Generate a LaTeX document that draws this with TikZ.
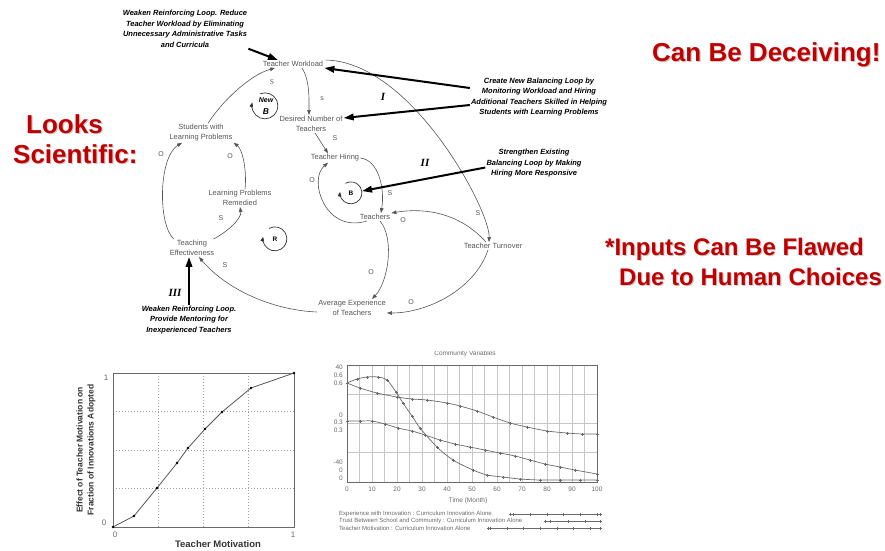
\documentclass[tikz,border=0pt]{standalone}
\usepackage{fontspec}
\setmainfont{Liberation Sans}
\newfontfamily\romanfont{Liberation Serif}
\usepackage{xcolor,tikz}
\usetikzlibrary{arrows.meta}
\definecolor{slidered}{RGB}{192,0,0}
\definecolor{cldgray}{RGB}{85,85,85}
\definecolor{plotgray}{RGB}{105,105,105}

\begin{document}
\begin{tikzpicture}[x=1pt,y=-1pt,
  every node/.style={inner sep=1pt},
  headline/.style={font=\fontsize{26}{30}\selectfont\bfseries,text=slidered,anchor=base west},
  headshade/.style={headline,text=black!20},
  var/.style={font=\fontsize{7.5}{10}\selectfont,text=cldgray,align=center},
  pol/.style={font=\fontsize{7}{8}\selectfont,text=cldgray,inner sep=0pt},
  cld/.style={draw=cldgray,line width=.6pt,-{Triangle[length=5pt,width=3.6pt]}},
  looparc/.style={draw=black!80,line width=.7pt,-{Triangle[length=4.5pt,width=3.6pt]}},
  loopmark/.style={circle,minimum size=24pt,inner sep=0pt,font=\fontsize{6.5}{7}\selectfont\bfseries},
  note/.style={font=\fontsize{7.5}{10.5}\selectfont\bfseries\itshape,align=center},
  lever/.style={line width=2pt,-{Triangle[length=10pt,width=6.5pt]}},
  roman/.style={font=\fontsize{11}{12}\selectfont\romanfont\bfseries\itshape},
  griddot/.style={gray!75,dash pattern=on 1.2pt off 1.8pt,line width=.6pt},
  gridline/.style={gray!45,line width=.6pt},
  frame/.style={draw=plotgray,line width=.7pt},
  tick/.style={font=\fontsize{6.5}{7}\selectfont,text=plotgray},
  axislab/.style={font=\fontsize{9.5}{11}\selectfont\bfseries,text=black!80,align=center},
  simline/.style={plotgray,line width=.7pt,mark=+,mark size=1.5pt,mark options={solid,line width=.5pt}},
  legend/.style={font=\fontsize{6}{6.5}\selectfont,text=plotgray,anchor=west,inner sep=0pt}]
\useasboundingbox (0,0) rectangle (885,550);

\node[headshade] (deceiveshade) at (652.2,62.2) {Can Be Deceiving!};
\node[headline] (deceive) at (651,61) {Can Be Deceiving!};
\node[headshade] (looksshade) at (26.2,134.2) {Looks};
\node[headline] (looks) at (25,133) {Looks};
\node[headshade] (scishade) at (13.2,164.2) {Scientific:};
\node[headline] (sci) at (12,163) {Scientific:};
\node[headshade,font=\fontsize{24}{28}\selectfont\bfseries] (flawshade) at (605.2,256.2) {*Inputs Can Be Flawed};
\node[headline,font=\fontsize{24}{28}\selectfont\bfseries] (flaw) at (604,255) {*Inputs Can Be Flawed};
\node[headshade,font=\fontsize{24}{28}\selectfont\bfseries] (choiceshade) at (619.2,286.2) {Due to Human Choices};
\node[headline,font=\fontsize{24}{28}\selectfont\bfseries] (choice) at (618,285) {Due to Human Choices};

\node[var] (tw) at (293,64) {Teacher Workload};
\node[var] (dn) at (311,124) {Desired Number of\\Teachers};
\node[var] (th) at (335,158) {Teacher Hiring};
\node[var] (te) at (375,217) {Teachers};
\node[var] (tt) at (493,246) {Teacher Turnover};
\node[var] (ae) at (352,308) {Average Experience\\of Teachers};
\node[var] (ef) at (192,248) {Teaching\\Effectiveness};
\node[var] (lr) at (240,198) {Learning Problems\\Remedied};
\node[var] (sl) at (201,133) {Students with\\Learning Problems};

\draw[cld] ([xshift=9pt]tw.south) .. controls +(8,12) and +(0,-14) .. ([xshift=-2pt]dn.north);
\draw[cld] ([xshift=4pt]dn.south) -- ([xshift=-7pt]th.north);
\draw[cld] (th.east) .. controls +(18,2) and +(4,-25) .. ([xshift=6pt]te.north);
\draw[cld] ([xshift=-8pt]te.south) .. controls +(-42,13) and +(-20,17) .. ([xshift=-7pt]th.south);
\draw[cld] ([xshift=1pt]tw.north east) .. controls (411,61) and (490,210) .. ([xshift=-4pt]tt.north);
\draw[cld] ([xshift=-7pt]tt.north) .. controls +(-25,-28) and +(35,-6) .. (te.north east);
\draw[cld] ([xshift=-5pt]tt.south) .. controls +(-13,39) and +(41,0) .. ([yshift=-5pt]ae.east);
\draw[cld] ([xshift=5pt]te.south) .. controls +(15,18) and +(16,-17) .. ([xshift=20pt]ae.north);
\draw[cld] ([yshift=-4pt]ae.west) .. controls +(-47,-2) and +(26,31) .. ([xshift=7pt]ef.south);
\draw[cld] ([xshift=-2pt]ef.north east) .. controls +(12,-6) and +(2,12) .. (lr.south);
\draw[cld] ([xshift=5pt]lr.north) .. controls +(2,-18) and +(9,7) .. (sl.south east);
\draw[cld] ([xshift=-18pt]ef.north) .. controls +(-16,-13) and +(-24,15) .. ([xshift=-19pt]sl.south);
\draw[cld] ([xshift=7pt]sl.north) .. controls +(14,-22) and +(-25,7) .. ([xshift=-18pt]tw.south);

\node[pol,font=\fontsize{7.5}{8}\selectfont\romanfont] (p1) at (272,82) {S};
\node[pol] (p2) at (322,99) {s};
\node[pol] (p3) at (335,138) {S};
\node[pol] (p4) at (312,180) {O};
\node[pol] (p5) at (390,193) {S};
\node[pol] (p6) at (403,220) {O};
\node[pol] (p7) at (478,213) {S};
\node[pol] (p8) at (371,272) {O};
\node[pol] (p9) at (411,302) {O};
\node[pol] (p10) at (225,265) {S};
\node[pol] (p11) at (221,218) {S};
\node[pol] (p12) at (230,156) {O};
\node[pol] (p13) at (161,154) {O};

\node[loopmark,minimum size=26pt] (newb) at (265,106) {};
\node[font=\fontsize{7}{8}\selectfont\bfseries\itshape,inner sep=0pt] (newword) at (266,100.5) {New};
\node[font=\fontsize{8.5}{9}\selectfont\bfseries\itshape,inner sep=0pt] (newbal) at (266,112) {B};
\draw[looparc] (newb.112) arc[start angle=112, end angle=-195, radius=13pt];
\node[loopmark,minimum size=22pt] (bloop) at (351,193) {B};
\draw[looparc] (bloop.120) arc[start angle=120, end angle=-185, radius=11pt];
\node[loopmark] (rloop) at (275,239) {R};
\draw[looparc] (rloop.120) arc[start angle=120, end angle=-190, radius=12pt];

\node[note] (cutload) at (185,29) {Weaken Reinforcing Loop. Reduce\\Teacher Workload by Eliminating\\Unnecessary Administrative Tasks\\and Curricula};
\node[note] (newloop) at (539,97) {Create New Balancing Loop by\\Monitoring Workload and Hiring\\Additional Teachers Skilled in Helping\\Students with Learning Problems};
\node[note] (hiring) at (534,163.5) {Strengthen Existing\\Balancing Loop by Making\\Hiring More Responsive};
\node[note] (mentor) at (189,320) {Weaken Reinforcing Loop.\\Provide Mentoring for\\Inexperienced Teachers};
\node[roman] (one) at (383,97) {I};
\node[roman] (two) at (425,163) {II};
\node[roman] (three) at (175,293) {III};

\draw[lever] (cutload.south east) -- ([xshift=-15pt]tw.north);
\draw[lever] ([yshift=9pt]newloop.west) -- ([yshift=-4pt]tw.east);
\draw[lever] ([yshift=-8pt]newloop.west) -- ([yshift=6pt]dn.east);
\draw[lever] ([yshift=-4pt]hiring.west) -- (bloop.10);
\draw[lever] (mentor.north) -- ([xshift=-3pt]ef.south);

\foreach \gx in {158.25,203.5,248.75} \draw[griddot] (\gx,373) -- (\gx,527);
\foreach \gy in {411.5,450,488.5} \draw[griddot] (113,\gy) -- (294,\gy);
\draw[frame] (113,373) rectangle (294,527);
\draw[plotgray!80!black,line width=.8pt] (113,527) -- (134,516) -- (157,488) -- (177,463) -- (188,448) -- (205,429) -- (222,412) -- (251,388) -- (294,373);
\foreach \px/\py in {113/527,134/516,157/488,177/463,188/448,205/429,222/412,251/388,294/373}
  \fill (\px,\py) circle (1.4pt);
\node[tick,font=\fontsize{8}{9}\selectfont] (effone) at (106,378) {1};
\node[tick,font=\fontsize{8}{9}\selectfont] (effzero) at (104,523) {0};
\node[tick,font=\fontsize{8}{9}\selectfont] (motzero) at (115,535) {0};
\node[tick,font=\fontsize{8}{9}\selectfont] (motone) at (293,535) {1};
\node[axislab] (motlab) at (218,544) {Teacher Motivation};
\node[axislab,rotate=90,font=\fontsize{8.5}{11}\selectfont\bfseries] (efflab) at (86,450) {Effect of Teacher Motivation on\\Fraction of Innovations Adopted};

\begin{scope}
\clip (400,351) rectangle (530,359);
\node[tick] (simtitle) at (465,354) {Community Variables};
\end{scope}
\foreach \i in {1,...,19} \draw[gridline] ({347+12.5*\i},365) -- ({347+12.5*\i},482);
\foreach \gy in {394,423,452} \draw[gridline] (347,\gy) -- (597,\gy);
\draw[frame] (347,365) rectangle (597,482);
\foreach \v in {0,10,...,100} \node[tick] (x\v) at ({347+2.5*\v},489) {\v};
\node[tick] (timelab) at (468,501) {Time (Month)};
\node[tick,anchor=east] (ya) at (344,367) {40};
\node[tick,anchor=east] (yb) at (344,375) {0.6};
\node[tick,anchor=east] (yc) at (344,383) {0.6};
\node[tick,anchor=east] (yd) at (344,415) {0};
\node[tick,anchor=east] (ye) at (344,422) {0.3};
\node[tick,anchor=east] (yf) at (344,430) {0.3};
\node[tick,anchor=east] (yg) at (344,462) {-40};
\node[tick,anchor=east] (yh) at (344,470) {0};
\node[tick,anchor=east] (yi) at (344,478) {0};
\draw[simline] plot[smooth] coordinates {(347,383) (357,379) (367,377) (378,377) (387,380) (396,392) (403,403) (412,416) (420,428) (437,447) (453,460) (473,470) (487,475) (503,477) (520,479) (540,480) (560,480) (580,480) (597,480)};
\draw[simline] plot[smooth] coordinates {(347,383) (360,388) (377,393) (397,397) (412,399) (427,400) (447,403) (460,406) (477,411) (493,417) (510,423) (527,427) (547,431) (567,433) (582,434) (597,434)};
\draw[simline] plot[smooth] coordinates {(347,421) (360,421) (372,421) (385,424) (398,428) (412,431) (425,435) (440,440) (455,444) (470,447) (485,450) (500,453) (515,456) (530,460) (545,464) (560,467) (575,470) (597,474)};
\node[legend] (legexp) at (339,514) {Experience with Innovation : Curriculum Innovation Alone};
\node[legend] (legtrust) at (339,521) {Trust Between School and Community : Curriculum Innovation Alone};
\node[legend] (legmot) at (339,528) {Teacher Motivation : Curriculum Innovation Alone};
\draw[simline] plot coordinates {(510,514) (513,514) (530,514) (547,514) (563,514) (580,514) (597,514) (600,514)};
\draw[simline] plot coordinates {(545,521) (550,521) (568,521) (585,521) (600,521)};
\draw[simline] plot coordinates {(488,528) (490,528) (507,528) (523,528) (540,528) (557,528) (573,528) (590,528) (600,528)};
\end{tikzpicture}
\end{document}
